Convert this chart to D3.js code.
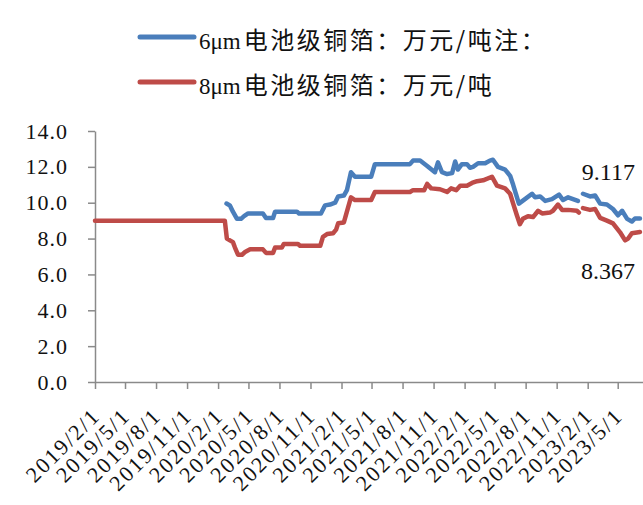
<!DOCTYPE html>
<html><head><meta charset="utf-8">
<script src="https://cdn.jsdelivr.net/npm/d3@7"></script>
<style>
html,body{margin:0;padding:0;background:#fff;}
svg{display:block;}
text{font-family:"Liberation Serif","Noto Sans CJK SC",serif;fill:#111;}
</style></head>
<body>
<svg id="chart" width="643" height="505"></svg>
<script>
// ---- data ----
const seriesLatin = ["6μm", "8μm"];
const seriesCJK = ["电池级铜箔：万元/吨注：", "电池级铜箔：万元/吨"];
const seriesColors = ["#4a7ebb", "#be4b48"];
const tickLabels = ["2019/2/1","2019/5/1","2019/8/1","2019/11/1","2020/2/1","2020/5/1","2020/8/1","2020/11/1",
  "2021/2/1","2021/5/1","2021/8/1","2021/11/1","2022/2/1","2022/5/1","2022/8/1","2022/11/1","2023/2/1","2023/5/1"];
const yTicks = [0,2,4,6,8,10,12,14];
const lastLabels = ["9.117", "8.367"];

const blue6 = [
["2020-02-26",9.95],["2020-03-07",9.85],["2020-03-16",9.5],["2020-03-28",9.1],["2020-04-09",9.1],["2020-04-18",9.25],
["2020-04-30",9.4],["2020-06-13",9.4],["2020-06-22",9.15],["2020-07-13",9.15],["2020-07-19",9.5],["2020-09-22",9.5],
["2020-09-28",9.4],["2020-12-02",9.4],["2020-12-14",9.85],["2020-12-29",9.9],["2021-01-13",10.0],["2021-01-22",10.35],
["2021-02-08",10.4],["2021-02-17",10.7],["2021-03-01",11.7],["2021-03-13",11.45],["2021-04-30",11.45],["2021-05-11",12.15],
["2021-08-23",12.15],["2021-09-01",12.35],["2021-09-22",12.35],["2021-10-13",12.05],["2021-11-05",11.7],["2021-11-14",12.25],
["2021-11-26",11.7],["2021-12-11",11.6],["2021-12-26",11.65],["2022-01-04",12.3],["2022-01-12",11.85],["2022-01-24",12.15],
["2022-02-08",12.15],["2022-02-17",11.95],["2022-02-26",12.0],["2022-03-13",12.2],["2022-04-03",12.2],["2022-04-17",12.35],
["2022-04-26",12.4],["2022-05-11",12.0],["2022-06-01",11.85],["2022-06-16",11.5],["2022-06-25",11.0],["2022-07-03",10.5],
["2022-07-12",9.95],["2022-07-30",10.2],["2022-08-20",10.5],["2022-08-29",10.3],["2022-09-13",10.35],["2022-09-28",10.1],
["2022-10-18",10.2],["2022-11-08",10.45],["2022-11-20",10.15],["2022-12-05",10.3],["2023-01-03",10.1],["2023-01-10",null],
["2023-01-18",10.5],["2023-02-08",10.35],["2023-02-23",10.4],["2023-03-10",9.95],["2023-03-30",9.9],["2023-04-17",9.65],
["2023-05-02",9.3],["2023-05-14",9.55],["2023-05-29",9.1],["2023-06-12",8.95],["2023-06-21",9.12],["2023-07-06",9.117]
];
const red8 = [
["2019-02-01",9.0],["2020-02-21",9.0],["2020-02-27",8.0],["2020-03-07",7.9],["2020-03-16",7.8],["2020-03-22",7.5],
["2020-03-31",7.1],["2020-04-12",7.1],["2020-04-21",7.25],["2020-05-06",7.4],["2020-06-13",7.4],["2020-06-22",7.2],
["2020-07-13",7.2],["2020-07-19",7.5],["2020-08-08",7.5],["2020-08-14",7.7],["2020-09-25",7.7],["2020-10-01",7.6],
["2020-11-30",7.6],["2020-12-08",8.1],["2020-12-20",8.25],["2021-01-07",8.3],["2021-01-16",8.5],["2021-01-22",8.85],
["2021-02-08",8.9],["2021-02-17",9.5],["2021-03-01",10.3],["2021-03-13",10.15],["2021-04-30",10.15],["2021-05-11",10.6],
["2021-08-23",10.6],["2021-09-01",10.7],["2021-10-04",10.7],["2021-10-13",11.05],["2021-10-25",10.8],["2021-11-20",10.75],
["2021-12-11",10.6],["2021-12-23",10.8],["2022-01-07",10.7],["2022-01-19",10.95],["2022-02-08",10.95],["2022-02-23",11.1],
["2022-03-10",11.2],["2022-03-28",11.25],["2022-04-23",11.45],["2022-05-08",10.95],["2022-06-01",10.8],["2022-06-16",10.5],
["2022-06-25",9.95],["2022-07-06",9.3],["2022-07-15",8.8],["2022-07-24",9.1],["2022-08-08",9.25],["2022-08-23",9.2],
["2022-09-07",9.55],["2022-09-19",9.4],["2022-10-12",9.45],["2022-10-21",9.55],["2022-11-05",9.9],["2022-11-17",9.6],
["2022-12-05",9.6],["2022-12-31",9.55],["2023-01-06",9.45],["2023-01-12",null],["2023-01-18",9.7],["2023-02-08",9.6],
["2023-02-23",9.65],["2023-03-10",9.15],["2023-03-30",9.0],["2023-04-17",8.85],["2023-05-08",8.35],["2023-05-23",7.9],
["2023-06-01",8.0],["2023-06-12",8.3],["2023-07-06",8.367]
];

// ---- chart ----
const parse = d3.timeParse("%Y-%m-%d");
const tickParse = d3.timeParse("%Y/%-m/%-d");
const svg = d3.select("#chart");
const x = d3.scaleTime().domain([tickParse("2019/2/1"), tickParse("2023/5/1")]).range([95, 617.7]);
const y = d3.scaleLinear().domain([0, 14]).range([382, 131]);
const axisColor = "#8a8a8a";

// y axis
const yAxis = svg.append("g").attr("transform", "translate(95,0)")
  .call(d3.axisLeft(y).tickValues(yTicks).tickFormat(d3.format(".1f")).tickSize(7).tickSizeOuter(0).tickPadding(20));
yAxis.select(".domain").attr("stroke", axisColor).attr("stroke-width", 1.5);
yAxis.selectAll(".tick line").attr("stroke", axisColor).attr("stroke-width", 1.5);
yAxis.selectAll("text").attr("font-size", 22).attr("letter-spacing", 1)
  .attr("font-family", "Liberation Serif").attr("fill", "#111");

// x axis
const tickDates = tickLabels.map(tickParse);
const xAxis = svg.append("g").attr("transform", "translate(0,382)")
  .call(d3.axisBottom(x).tickValues(tickDates).tickFormat((d, i) => tickLabels[i]).tickSize(7).tickSizeOuter(0));
xAxis.select(".domain").attr("d", "M95,0.5H643").attr("stroke", axisColor).attr("stroke-width", 1.5);
xAxis.selectAll(".tick line").attr("stroke", axisColor).attr("stroke-width", 1.5);
xAxis.selectAll(".tick text")
  .attr("font-size", 22).attr("letter-spacing", 2).attr("font-family", "Liberation Serif").attr("fill", "#111")
  .attr("text-anchor", "end").attr("y", 0).attr("dy", 0)
  .attr("transform", "translate(6,35) rotate(-45)");

// lines
const line = d3.line().defined(d => d[1] != null).x(d => x(parse(d[0]))).y(d => y(d[1]));
[blue6, red8].forEach((s, i) => {
  svg.append("path").datum(s).attr("fill", "none").attr("stroke", seriesColors[i])
    .attr("stroke-width", 4.5).attr("stroke-linejoin", "round").attr("stroke-linecap", "round").attr("d", line);
});

// end labels
const lb = blue6[blue6.length - 1], lr = red8[red8.length - 1];
svg.append("text").attr("x", x(parse(lb[0])) - 5).attr("y", y(lb[1]) - 39).attr("text-anchor", "end")
  .attr("font-size", 24).text(lastLabels[0]);
svg.append("text").attr("x", x(parse(lr[0])) - 5).attr("y", y(lr[1]) + 47).attr("text-anchor", "end")
  .attr("font-size", 24).text(lastLabels[1]);

// legend
const legend = svg.append("g");
seriesLatin.forEach((n, i) => {
  const ly = 37 + i * 45;
  legend.append("line").attr("x1", 140).attr("x2", 194).attr("y1", ly).attr("y2", ly)
    .attr("stroke", seriesColors[i]).attr("stroke-width", 5).attr("stroke-linecap", "round");
  const t = legend.append("text").attr("x", 199).attr("y", ly + 11.5);
  t.append("tspan").attr("font-size", 23).attr("font-family", "Liberation Serif").text(n);
  t.append("tspan").attr("dx", 3).attr("font-size", 24).attr("letter-spacing", 2.5)
    .attr("font-family", "Noto Sans CJK SC").text(seriesCJK[i]);
});
</script>
</body></html>
